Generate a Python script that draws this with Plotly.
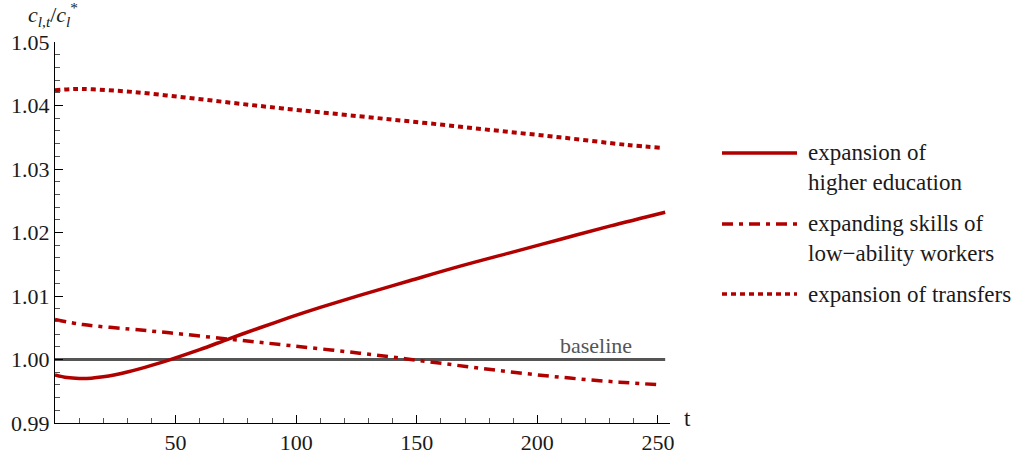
import plotly.graph_objects as go

# ---- data ----
t_edu = [0, 5, 10, 15, 20, 25, 30, 35, 40, 47.5, 60, 72.4, 85, 97.3, 110, 126.3, 147, 168, 188.6, 209.3, 230, 253]
edu = [0.99758, 0.99717, 0.99702, 0.99706, 0.99727, 0.99760, 0.99802, 0.99852, 0.99907, 0.99995,
       1.00155, 1.00330, 1.00500, 1.00662, 1.00820, 1.01010, 1.01240, 1.01470, 1.01680, 1.01890,
       1.02100, 1.02320]

t_skill = [0, 11.5, 30.9, 47.5, 72.4, 97.3, 126.3, 154, 181.6, 209.3, 234, 251.5]
skill = [1.0063, 1.0055, 1.0048, 1.0042, 1.0032, 1.0022, 1.0010, 0.9997, 0.99837, 0.99722, 0.99643, 0.99601]

t_trans = [0, 8, 15.7, 32.3, 53, 73.8, 94.5, 126.3, 154, 181.7, 209.3, 237, 251.5]
trans = [1.04239, 1.0426, 1.04255, 1.04213, 1.0413, 1.0404, 1.03953, 1.0383, 1.03723, 1.0361,
         1.0350, 1.0338, 1.03333]

t_base = [0, 253]
base = [1.0, 1.0]

x_ticks = [50, 100, 150, 200, 250]
y_ticks = [0.99, 1.00, 1.01, 1.02, 1.03, 1.04, 1.05]
y_ticktext = ["0.99", "1.00", "1.01", "1.02", "1.03", "1.04", "1.05"]

legend_labels = ["expansion of<br>higher education",
                 "expanding skills of<br>low\u2212ability workers",
                 "expansion of transfers"]

RED = "#b00000"
GRAY = "#555555"
FONT = "Liberation Serif"
W, H = 1017, 452
ML, MR, MT, MB = 55, 347, 42, 29
PW, PH = W - ML - MR, H - MT - MB


def px(xp):  # window pixel -> paper x
    return (xp - ML) / PW


def py(yp):  # window pixel -> paper y
    return (H - MB - yp) / PH


fig = go.Figure()
fig.add_trace(go.Scatter(x=t_base, y=base, mode="lines",
                         line=dict(color=GRAY, width=3), showlegend=False))
fig.add_trace(go.Scatter(x=t_edu, y=edu, mode="lines", line_shape="spline",
                         line=dict(color=RED, width=3.5), showlegend=False))
fig.add_trace(go.Scatter(x=t_skill, y=skill, mode="lines", line_shape="spline",
                         line=dict(color=RED, width=3.5, dash="11px,6px,4px,6px"), showlegend=False))
fig.add_trace(go.Scatter(x=t_trans, y=trans, mode="lines", line_shape="spline",
                         line=dict(color=RED, width=4, dash="5px,4px"), showlegend=False))

# legend drawn manually
dashes = ["solid", "11px,6px,4px,6px", "5px,4px"]
line_y = [153, 224, 294]
text_y = [167, 238, 294]
for d, ly, ty, lab in zip(dashes, line_y, text_y, legend_labels):
    fig.add_shape(type="line", xref="paper", yref="paper",
                  x0=px(722), x1=px(797), y0=py(ly), y1=py(ly),
                  line=dict(color=RED, width=3.5, dash=d))
    fig.add_annotation(xref="paper", yref="paper", x=px(806), y=py(ty),
                       xanchor="left", yanchor="middle", align="left",
                       text=lab, showarrow=False,
                       font=dict(family=FONT, size=23, color="#1a1a1a"))

fig.add_annotation(x=224.5, y=1.0, yref="y", xref="x", yshift=14, text="baseline",
                   showarrow=False, font=dict(family=FONT, size=22, color=GRAY))
fig.add_annotation(xref="paper", yref="paper", x=px(53), y=py(14),
                   text="<i>c</i><sub><i>l</i>,<i>t</i></sub>/<i>c</i><sub><i>l</i></sub><sup>*</sup>",
                   showarrow=False, xanchor="center", yanchor="middle",
                   font=dict(family=FONT, size=22, color="#1a1a1a"))
fig.add_annotation(xref="paper", yref="paper", x=px(687), y=py(418), text="t",
                   showarrow=False, xanchor="center", yanchor="middle",
                   font=dict(family=FONT, size=23, color="#1a1a1a"))

fig.update_xaxes(range=[0, 255], tickmode="array", tickvals=x_ticks, automargin=False,
                 showline=True, linecolor="black", linewidth=1, showgrid=False, zeroline=False,
                 ticks="inside", ticklen=8, tickcolor="black", tickwidth=1,
                 minor=dict(tickmode="linear", tick0=0, dtick=10, ticks="inside",
                            ticklen=5, tickcolor="#555555", showgrid=False),
                 tickfont=dict(family=FONT, size=22, color="#1a1a1a"))
fig.update_yaxes(range=[0.99, 1.05], tickmode="array", tickvals=y_ticks, ticktext=y_ticktext,
                 automargin=False,
                 showline=True, linecolor="black", linewidth=1, showgrid=False, zeroline=False,
                 ticks="inside", ticklen=8, tickcolor="black", tickwidth=1,
                 minor=dict(tickmode="linear", tick0=0.99, dtick=0.002, ticks="inside",
                            ticklen=5, tickcolor="#555555", showgrid=False),
                 tickfont=dict(family=FONT, size=22, color="#1a1a1a"))

fig.update_layout(width=W, height=H, margin=dict(l=ML, r=MR, t=MT, b=MB, pad=0),
                  plot_bgcolor="white", paper_bgcolor="white", showlegend=False,
                  font=dict(family=FONT))

fig.write_html("out.html", config={"displayModeBar": False},
               post_script="document.body.style.margin='0';document.body.style.overflow='hidden';")
